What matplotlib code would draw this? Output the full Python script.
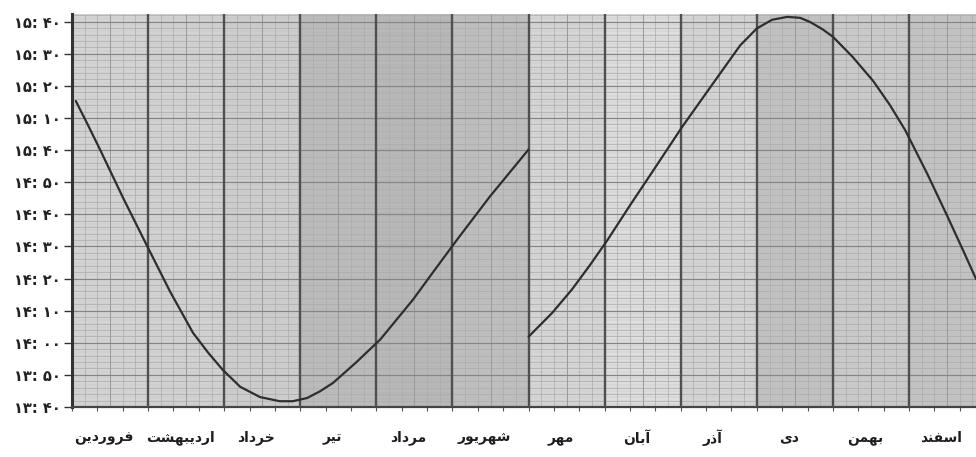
import numpy as np
import matplotlib
matplotlib.use("Agg")
import matplotlib.pyplot as plt
from matplotlib.transforms import blended_transform_factory

# ---- data -------------------------------------------------------------
months = ["فروردین", "اردیبهشت", "خرداد", "تیر", "مرداد", "شهریور",
          "مهر", "آبان", "آذر", "دی", "بهمن", "اسفند"]

# clock time axis (minutes after midnight) and its labels
tick_minutes = [820, 830, 840, 850, 860, 870, 880, 890, 900, 910, 920, 930, 940]
tick_labels = ["۱۳: ۴۰", "۱۳: ۵۰", "۱۴: ۰۰", "۱۴: ۱۰", "۱۴: ۲۰", "۱۴: ۳۰",
               "۱۴: ۴۰", "۱۴: ۵۰", "۱۵: ۴۰", "۱۵: ۱۰", "۱۵: ۲۰", "۱۵: ۳۰",
               "۱۵: ۴۰"]

# first half of the year (daylight saving time), position in months
dst_month = [0.05, 0.21, 0.37, 0.67, 0.99, 1.29, 1.59, 1.79, 1.98, 2.21, 2.47,
             2.73, 2.90, 3.09, 3.26, 3.43, 3.73, 4.05, 4.48, 4.77, 5.06, 5.49,
             6.00]
dst_minutes = [915.3, 907.8, 900.1, 885.2, 870.0, 855.9, 843.1, 836.9, 831.6,
               826.3, 823.1, 821.8, 821.8, 822.8, 824.9, 827.5, 833.8, 841.0,
               853.4, 862.8, 872.1, 885.5, 900.2]

# second half of the year (standard time)
std_month = [6.00, 6.31, 6.57, 6.81, 7.04, 7.33, 7.62, 8.02, 8.41, 8.78, 9.00,
             9.20, 9.40, 9.57, 9.70, 9.86, 10.00, 10.26, 10.53, 10.75, 10.95,
             11.24, 11.50, 11.71, 11.88]
std_minutes = [841.9, 849.3, 856.6, 864.3, 872.1, 882.7, 893.0, 907.3, 920.3,
               932.6, 937.9, 940.6, 941.5, 941.2, 939.9, 937.7, 935.3, 929.0,
               921.5, 914.0, 906.2, 892.6, 879.6, 868.8, 859.9]

# paper tint of each month column
column_grays = ["#d4d4d4", "#d2d2d2", "#cdcdcd", "#b9b9b9", "#b5b5b5", "#bdbdbd",
                "#d6d6d6", "#dedede", "#d4d4d4", "#c0c0c0", "#cacaca", "#c2c2c2"]


# ---- minimal Persian shaping (matplotlib draws glyphs without shaping) ----
FORMS = {  # isolated, final, initial, medial
    "ا": ("\uFE8D", "\uFE8E"), "آ": ("\uFE81", "\uFE82"),
    "د": ("\uFEA9", "\uFEAA"), "ذ": ("\uFEAB", "\uFEAC"),
    "ر": ("\uFEAD", "\uFEAE"), "و": ("\uFEED", "\uFEEE"),
    "ب": ("\uFE8F", "\uFE90", "\uFE91", "\uFE92"),
    "ت": ("\uFE95", "\uFE96", "\uFE97", "\uFE98"),
    "خ": ("\uFEA5", "\uFEA6", "\uFEA7", "\uFEA8"),
    "س": ("\uFEB1", "\uFEB2", "\uFEB3", "\uFEB4"),
    "ش": ("\uFEB5", "\uFEB6", "\uFEB7", "\uFEB8"),
    "ف": ("\uFED1", "\uFED2", "\uFED3", "\uFED4"),
    "م": ("\uFEE1", "\uFEE2", "\uFEE3", "\uFEE4"),
    "ن": ("\uFEE5", "\uFEE6", "\uFEE7", "\uFEE8"),
    "ه": ("\uFEE9", "\uFEEA", "\uFEEB", "\uFEEC"),
    "ی": ("\uFBFC", "\uFBFD", "\uFBFE", "\uFBFF"),
}


def shape_fa(word):
    out = []
    for i, ch in enumerate(word):
        f = FORMS.get(ch)
        if f is None:
            out.append(ch)
            continue
        prev = word[i - 1] if i > 0 else None
        nxt = word[i + 1] if i + 1 < len(word) else None
        join_prev = prev is not None and len(FORMS.get(prev, ())) == 4
        join_next = len(f) == 4 and nxt is not None and nxt in FORMS
        if join_prev and join_next:
            out.append(f[3])
        elif join_prev:
            out.append(f[1])
        elif join_next:
            out.append(f[2])
        else:
            out.append(f[0])
    return "".join(reversed(out))


# ---- figure -------------------------------------------------------------
W, H = 976, 457
fig = plt.figure(figsize=(W / 100, H / 100), dpi=100)
fig.patch.set_facecolor("white")
ax = fig.add_axes([72 / W, 50 / H, 904 / W, 393 / H])

x_max = 11.88
y_min, y_max = 820, 942.4
ax.set_xlim(0, x_max)
ax.set_ylim(y_min, y_max)

# tinted month columns
for i, g in enumerate(column_grays):
    ax.axvspan(i, i + 1, color=g, lw=0, zorder=0)

# graph-paper rulings
fine_y = np.arange(y_min, y_max, 1.0)
ax.hlines(fine_y, 0, x_max, colors="#c4c4c4", lw=0.35, zorder=1)
minor_y = np.arange(y_min, y_max, 2.0)
ax.hlines(minor_y, 0, x_max, colors="#acacac", lw=0.5, zorder=1)
major_y = np.arange(y_min, y_max, 10.0)
ax.hlines(major_y, 0, x_max, colors="#858585", lw=0.85, zorder=2)

minor_x = np.arange(0, x_max, 1 / 6)
ax.vlines(minor_x, y_min, y_max, colors="#ababab", lw=0.5, zorder=1)
mid_x = np.arange(0.5, x_max, 1.0)
ax.vlines(mid_x, y_min, y_max, colors="#9a9a9a", lw=0.7, zorder=1)
month_x = np.arange(1, x_max, 1.0)
ax.vlines(month_x, y_min, y_max, colors="#4f4f4f", lw=1.7, zorder=3)

# the curve, broken where the clocks go back one hour
ax.plot(dst_month, dst_minutes, color="#2e2e2e", lw=1.6, zorder=5,
        solid_capstyle="round", solid_joinstyle="round")
ax.plot(std_month, std_minutes, color="#2e2e2e", lw=1.6, zorder=5,
        solid_capstyle="round", solid_joinstyle="round")

# axes frame and ticks
for side in ("top", "right"):
    ax.spines[side].set_visible(False)
ax.spines["left"].set_color("#333333")
ax.spines["left"].set_linewidth(2.2)
ax.spines["bottom"].set_color("#444444")
ax.spines["bottom"].set_linewidth(1.6)

ax.set_yticks(tick_minutes)
ax.set_yticklabels(tick_labels, fontsize=10.5, fontweight="bold",
                   color="#222222", family=["DejaVu Sans"])
ax.tick_params(axis="y", direction="out", length=6, width=1.0,
               color="#333333", pad=2)
ax.set_xticks(np.arange(0, x_max, 1 / 3))
ax.set_xticklabels([])
ax.tick_params(axis="x", direction="out", length=3, width=0.8,
               color="#555555")

# month names under the columns
trans = blended_transform_factory(ax.transData, ax.transAxes)
for i, name in enumerate(months):
    ax.text(i + 0.42, -0.078, shape_fa(name), transform=trans,
            ha="center", va="center", fontsize=10, fontweight="bold",
            color="#1e1e1e", family=["DejaVu Sans"])

fig.savefig("out.png", dpi=100, facecolor="white")
